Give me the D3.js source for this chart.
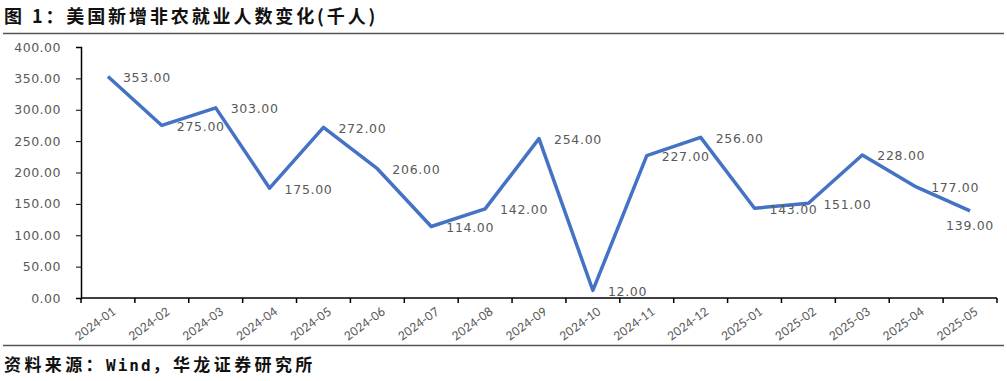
<!DOCTYPE html>
<html>
<head>
<meta charset="utf-8">
<script src="https://cdn.jsdelivr.net/npm/d3@7"></script>
<style>
body { margin: 0; background: #fff; }
svg { display: block; }
</style>
</head>
<body>
<svg id="chart" width="1007" height="381"></svg>
<script>
const months = ["2024-01", "2024-02", "2024-03", "2024-04", "2024-05", "2024-06", "2024-07", "2024-08", "2024-09",
    "2024-10", "2024-11", "2024-12", "2025-01", "2025-02", "2025-03", "2025-04", "2025-05"]
const payrolls = [353, 275, 303, 175, 272, 206, 114, 142, 254, 12, 227, 256, 143, 151, 228, 177, 139]
const yTicks = [0, 50, 100, 150, 200, 250, 300, 350, 400]

const cjk = "'Noto Sans CJK SC', sans-serif"
const latin = "'DejaVu Sans', Verdana, sans-serif"
const narrow = "Carlito, Calibri, 'Liberation Sans', sans-serif"

let svg = d3.select("#chart")

// header and footer
svg.append("text")
    .attr("x", 4).attr("y", 23)
    .attr("font-family", cjk).attr("font-weight", "bold").attr("font-size", 18)
    .attr("letter-spacing", 2.9)
    .attr("fill", "#111")
    .text("图 1：美国新增非农就业人数变化(千人)")
svg.append("line").attr("x1", 3).attr("x2", 1004).attr("y1", 33.5).attr("y2", 33.5)
    .attr("stroke", "#555").attr("stroke-width", 1.5)
svg.append("line").attr("x1", 3).attr("x2", 1004).attr("y1", 345.5).attr("y2", 345.5)
    .attr("stroke", "#555").attr("stroke-width", 1.5)
let foot = svg.append("text")
    .attr("x", 4).attr("y", 371)
    .attr("font-family", cjk).attr("font-weight", "bold").attr("font-size", 17)
    .attr("letter-spacing", 3.4)
    .attr("fill", "#111")
foot.append("tspan").text("资料来源：")
foot.append("tspan").attr("font-family", "'DejaVu Sans Mono', monospace").attr("font-size", 16)
    .attr("letter-spacing", 2).text("Wind")
foot.append("tspan").text("，华龙证券研究所")

let x = d3.scaleBand().domain(months).range([81, 997])
let y = d3.scaleLinear().domain([0, 400]).range([298, 47])

// y axis
let yAxis = svg.append("g")
    .attr("transform", "translate(81,0)")
    .call(d3.axisLeft(y).tickValues(yTicks).tickFormat(d3.format(".2f")).tickSize(5))
yAxis.select(".domain").attr("stroke", "#000").attr("stroke-width", 1.5)
yAxis.selectAll(".tick line").attr("stroke", "#000")
yAxis.selectAll(".tick text")
    .attr("x", -20)
    .attr("font-family", latin).attr("font-size", 12.5).attr("letter-spacing", 0.5)
    .attr("fill", "#595959")

// x axis, ticks between categories
let xAxis = svg.append("g").attr("transform", "translate(0,298)")
xAxis.append("line").attr("x1", 81).attr("x2", 997)
    .attr("stroke", "#000").attr("stroke-width", 1.5)
xAxis.selectAll("line.tk")
    .data(months.concat(["end"]))
    .join("line")
        .classed("tk", true)
        .attr("x1", (d, i) => i < months.length ? x(d) : x.range()[1])
        .attr("x2", (d, i) => i < months.length ? x(d) : x.range()[1])
        .attr("y1", 0).attr("y2", 5)
        .attr("stroke", "#000").attr("stroke-width", 1.5)
xAxis.selectAll("text")
    .data(months)
    .join("text")
        .attr("transform", d => `translate(${x(d) + x.bandwidth() / 2 + 3},7) rotate(-36)`)
        .attr("text-anchor", "end")
        .attr("dy", "0.75em")
        .attr("font-family", narrow).attr("font-size", 13.5).attr("letter-spacing", 0.3)
        .attr("fill", "#595959")
        .text(d => d)

// line
let cx = d => x(d) + x.bandwidth() / 2
let line = d3.line()
    .x((d, i) => cx(months[i]))
    .y(d => y(d))
svg.append("path")
    .datum(payrolls)
    .attr("fill", "none")
    .attr("stroke", "#4472C4")
    .attr("stroke-width", 3.5)
    .attr("stroke-linejoin", "round")
    .attr("d", line)

// value labels: right of each point, the last one below it
let last = payrolls.length - 1
svg.append("g")
    .selectAll("text")
    .data(payrolls)
    .join("text")
        .attr("x", (d, i) => cx(months[i]) + (i == last ? 0 : 15))
        .attr("y", (d, i) => y(d) + (i == last ? 15 : 1))
        .attr("text-anchor", (d, i) => i == last ? "middle" : "start")
        .attr("dy", "0.35em")
        .attr("font-family", latin).attr("font-size", 12.5).attr("letter-spacing", 0.7)
        .attr("fill", "#595959")
        .text(d => d3.format(".2f")(d))
</script>
</body>
</html>
